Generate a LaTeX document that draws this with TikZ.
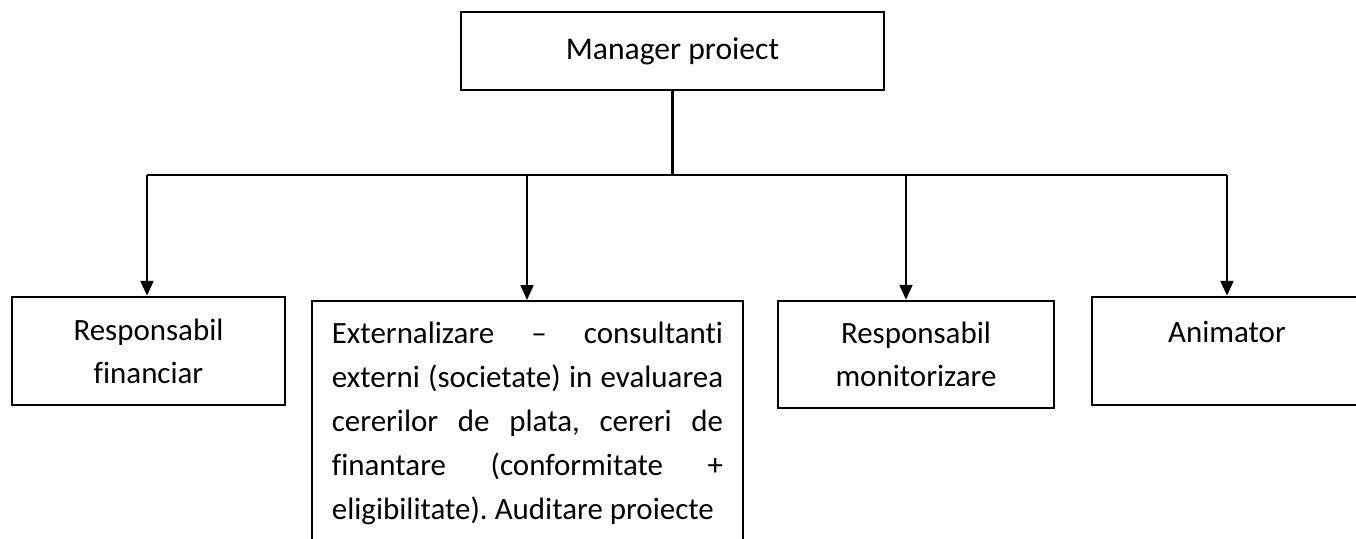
\documentclass[tikz,border=0pt]{standalone}
\usepackage{fontspec}
\setmainfont{Carlito}[Ligatures=NoCommon]
\usetikzlibrary{arrows.meta}
\hyphenpenalty=10000
\exhyphenpenalty=10000
\frenchspacing

\begin{document}
\begin{tikzpicture}[x=0.01cm, y=-0.01cm,
    box/.style={draw, line width=0.7pt, inner sep=0pt, align=center,
      font=\fontsize{8.8}{12.2}\selectfont},
    link/.style={line width=0.7pt},
    down/.style={->, >={Triangle[width=3.6pt,length=4.2pt]}, line width=0.7pt}]
\useasboundingbox (0,0) rectangle (1356,538);
\clip (0,0) rectangle (1356,538);
\node[box, minimum width=4.23cm, minimum height=0.78cm, font=\fontsize{9}{12}\selectfont] (mgr) at (672.5,51) {Manager proiect};
\node[box, minimum width=2.73cm, minimum height=1.08cm] (fin) at (148.5,351) {Responsabil\\financiar};
\node[box, anchor=north, text width=3.91cm, inner xsep=0.2cm, inner ysep=0.21cm, align=justify,
  font=\fontsize{8.8}{12.5}\selectfont] (ext) at (527.5,300)
  {Externalizare – consultanti\linebreak externi (societate) in evaluarea\linebreak cererilor de plata, cereri de\linebreak finantare (conformitate +\linebreak eligibilitate). Auditare proiecte};
\node[box, minimum width=2.76cm, minimum height=1.07cm] (mon) at (916,354.5) {Responsabil\\monitorizare};
\node[box, minimum width=2.70cm, text height=0.45cm, text depth=0.63cm] (anim) at (1227,351) {Animator};
% branch points
\coordinate (hub) at (672.5,175);
\coordinate (b1) at (147,175);
\coordinate (b2) at (527,175);
\coordinate (b3) at (906,175);
\coordinate (b4) at (1227,175);
\draw[link] (mgr.south) -- (hub);
\draw[link] (b1) -- (b4);
\draw[down] (b1) -- (b1 |- fin.north);
\draw[down] (b2) -- (b2 |- ext.north);
\draw[down] (b3) -- (b3 |- mon.north);
\draw[down] (b4) -- (b4 |- anim.north);
\end{tikzpicture}
\end{document}
